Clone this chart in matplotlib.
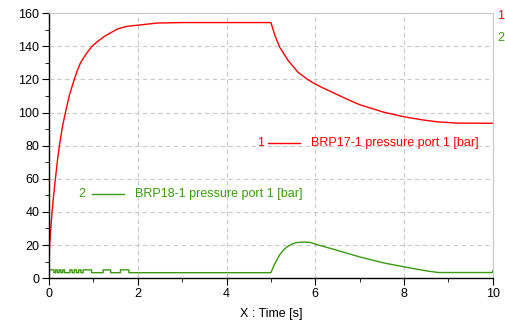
import matplotlib
matplotlib.use("Agg")
import matplotlib.pyplot as plt
from matplotlib.ticker import MultipleLocator

plt.rcParams['font.family'] = ['Liberation Sans', 'DejaVu Sans']

# Series 1: BRP17-1 pressure port 1 [bar]
t1 = [0.0, 0.015, 0.05, 0.07, 0.10, 0.145, 0.19, 0.235, 0.30, 0.37, 0.46, 0.57, 0.64, 0.71, 0.84, 0.97,
      1.1, 1.24, 1.38, 1.55, 1.75, 2.1, 2.43, 3.0, 4.0, 5.0, 5.09, 5.2, 5.39, 5.61, 5.84, 5.99, 6.2,
      6.44, 6.75, 7.01, 7.54, 8.0, 8.4, 8.74, 9.19, 10.0]
p1 = [5.0, 20.9, 33.0, 40.0, 49.0, 60.0, 71.0, 80.0, 91.0, 100.0, 110.5, 120.0, 125.5, 130.0, 135.5, 140.0,
      143.0, 145.8, 148.0, 150.5, 152.0, 153.0, 154.0, 154.3, 154.3, 154.3, 146.4, 139.3, 131.3, 124.3, 119.7, 117.3, 114.5,
      111.5, 107.6, 104.6, 100.2, 97.4, 95.6, 94.4, 93.6, 93.5]

# Series 2: BRP18-1 pressure port 1 [bar] (stepped start)
t2 = [0.0, 0.01, 0.11, 0.11, 0.15, 0.15, 0.19, 0.19, 0.23, 0.23, 0.27, 0.27, 0.31, 0.31, 0.35, 0.35,
      0.47, 0.47, 0.52, 0.52, 0.57, 0.57, 0.62, 0.62, 0.67, 0.67, 0.72, 0.72, 0.77, 0.77, 0.84, 0.84,
      0.96, 0.96, 1.22, 1.22, 1.39, 1.39, 1.61, 1.61,
      1.80, 1.80, 5.0, 5.07, 5.13, 5.2, 5.28, 5.35, 5.43, 5.5, 5.58, 5.75, 5.88, 6.03, 6.48, 7.0, 7.54,
      8.0, 8.5, 8.77, 9.99, 10.0]
p2 = [3.3, 5.0, 5.0, 3.3, 3.3, 5.0, 5.0, 3.3, 3.3, 5.0, 5.0, 3.3, 3.3, 5.0, 5.0, 3.3,
      3.3, 5.0, 5.0, 3.3, 3.3, 5.0, 5.0, 3.3, 3.3, 5.0, 5.0, 3.3, 3.3, 5.0, 5.0, 5.0,
      5.0, 3.3, 3.3, 5.0, 5.0, 3.3, 3.3, 5.0,
      5.0, 3.3, 3.3, 7.8, 10.8, 14.2, 16.9, 18.6, 19.9, 20.9, 21.5, 21.8, 21.6, 20.3, 16.9, 12.8, 9.2,
      6.8, 4.4, 3.4, 3.4, 4.5]

label1 = "BRP17-1 pressure port 1 [bar]"
label2 = "BRP18-1 pressure port 1 [bar]"
xlabel = "X : Time [s]"

red = '#ff0000'
green = '#3a9a10'

fig = plt.figure(figsize=(5.05, 3.28), dpi=100)
ax = fig.add_axes([0.097, 0.152, 0.879, 0.808])
ax.plot(t1, p1, color=red, lw=1.0)
ax.plot(t2, p2, color=green, lw=1.0)

ax.set_xlim(0, 10)
ax.set_ylim(0, 160)
ax.xaxis.set_major_locator(MultipleLocator(2))
ax.xaxis.set_minor_locator(MultipleLocator(1))
ax.yaxis.set_major_locator(MultipleLocator(20))
ax.yaxis.set_minor_locator(MultipleLocator(10))
ax.grid(True, which='major', color='#c8c8c8', linestyle=(0, (4, 3)), lw=0.8)
ax.tick_params(which='major', direction='out', length=5, labelsize=9, colors='black', pad=2)
ax.tick_params(which='minor', direction='out', length=3)
for s in ['top', 'right']:
    ax.spines[s].set_color('#c8c8c8')
    ax.spines[s].set_linewidth(0.8)
for s in ['left', 'bottom']:
    ax.spines[s].set_color('black')
    ax.spines[s].set_linewidth(1.0)

ax.set_xlabel(xlabel, fontsize=9, labelpad=6)

# inline legends
fig.text(257/505, 1-143/328, "1", color=red, fontsize=9, va='center', ha='left')
fig.add_artist(plt.Line2D([268/505, 300/505], [1-143/328, 1-143/328], color=red, lw=1.0))
fig.text(311/505, 1-143/328, label1, color=red, fontsize=9, va='center', ha='left')

fig.text(78/505, 1-194/328, "2", color=green, fontsize=9, va='center', ha='left')
fig.add_artist(plt.Line2D([92/505, 124/505], [1-194/328, 1-194/328], color=green, lw=1.0))
fig.text(135/505, 1-194/328, label2, color=green, fontsize=9, va='center', ha='left')

# right-side curve markers
fig.text(497/505, 1-16/328, "1", color=red, fontsize=9, va='center', ha='left')
fig.text(497/505, 1-38/328, "2", color=green, fontsize=9, va='center', ha='left')

fig.savefig("out.png", dpi=100)
